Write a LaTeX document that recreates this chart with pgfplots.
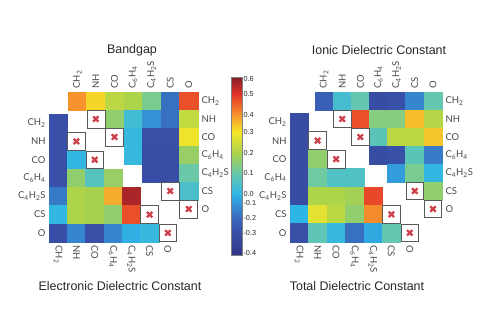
\documentclass[border=0pt]{standalone}
\usepackage{pgfplots}
\pgfplotsset{compat=1.18}
\usepackage{fontspec}
\setmainfont{Liberation Sans}
\newfontfamily\lab{Lato}
\definecolor{xred}{RGB}{205,65,75}
\pgfplotsset{
  colormap={refjet}{rgb255(0pt)=(50,54,138) rgb255(122pt)=(56,78,166) rgb255(206pt)=(57,104,188) rgb255(290pt)=(52,150,215) rgb255(341pt)=(45,182,232) rgb255(459pt)=(105,200,170) rgb255(571pt)=(168,210,76) rgb255(689pt)=(246,230,40) rgb255(787pt)=(246,150,45) rgb255(904pt)=(228,50,40) rgb255(1000pt)=(130,30,40)},
  hmcell/.style={
    scale only axis, clip=false,
    xmin=-0.5, xmax=6.5, ymin=-0.5, ymax=6.5, y dir=reverse,
    point meta min=0, point meta max=1,
    axis line style={draw=none}, major tick length=0pt,
    xtick={0,...,6}, ytick={0,...,6},
    xticklabels={CH\textsubscript{2},NH,CO,C\textsubscript{6}H\textsubscript{4},C\textsubscript{4}H\textsubscript{2}S,CS,O},
    yticklabels={CH\textsubscript{2},NH,CO,C\textsubscript{6}H\textsubscript{4},C\textsubscript{4}H\textsubscript{2}S,CS,O},
    ticklabel style={font=\lab\fontsize{9.5}{10}\selectfont, text=black!72},
  },
  hmupper/.style={hmcell, xticklabel pos=upper, yticklabel pos=right,
    xticklabel style={rotate=90, anchor=west}, yticklabel style={anchor=west}},
  hmlower/.style={hmcell,
    xticklabel style={rotate=-90, anchor=west}, yticklabel style={anchor=east}},
  hmcells/.style={scatter, only marks, mark=square*, mark size=#1,
    scatter/use mapped color={draw=mapped color, fill=mapped color}},
  hmxbox/.style={only marks, mark=square*, mark size=#1,
    mark options={fill=white, draw=black!65, line width=0.7pt}},
  hmxmark/.style={only marks, mark=x, mark size=3.8pt, line width=2.3pt, color=xred},
}
\begin{document}
\begin{tikzpicture}[x=1bp,y=1bp]
\path[use as bounding box] (0,0) rectangle (500,333);

% Bandgap (left, upper triangle)
\begin{axis}[hmupper, at={(68bp,115bp)}, anchor=south west, width=130bp, height=126bp,
  colorbar, colorbar style={at={(parent axis.north east)}, anchor=north west,
    xshift=25bp, yshift=15bp, scale only axis, width=10.5bp, height=178bp,
    axis line style={draw=black!50}, major tick length=0pt,
    ytick={0.013,0.122,0.206,0.290,0.341,0.459,0.571,0.689,0.787,0.904,0.989},
    yticklabels={-0.4,-0.3,-0.2,-0.1,0.0,0.1,0.2,0.3,0.4,0.5,0.6},
    yticklabel style={font=\fontsize{7.3}{8}\selectfont, text=black!85, xshift=-2bp}}]
\addplot[hmcells=9.3bp, point meta=\thisrow{v}] table[x=c, y=r] {
c r v
0 0 0.79
1 0 0.71
2 0 0.60
3 0 0.58
4 0 0.49
5 0 0.22
6 0 0.87
2 1 0.53
3 1 0.38
4 1 0.28
5 1 0.22
6 1 0.61
3 2 0.36
4 2 0.13
5 2 0.13
6 2 0.68
3 3 0.36
4 3 0.12
5 3 0.12
6 3 0.54
4 4 0.12
5 4 0.12
6 4 0.46
6 5 0.40
};
\addplot[hmxbox=9.0bp] coordinates {(1,1) (2,2) (5,5) (6,6)};
\addplot[hmxmark] coordinates {(1,1) (2,2) (5,5) (6,6)};
\end{axis}

% Electronic (left, lower triangle)
\begin{axis}[hmlower, at={(49bp,91bp)}, anchor=south west, width=128bp, height=128bp]
\addplot[hmcells=9.15bp, point meta=\thisrow{v}] table[x=c, y=r] {
c r v
0 0 0.13
0 1 0.13
0 2 0.13
1 2 0.35
0 3 0.13
1 3 0.53
2 3 0.42
3 3 0.54
0 4 0.24
1 4 0.58
2 4 0.57
3 4 0.76
4 4 0.96
0 5 0.35
1 5 0.58
2 5 0.57
3 5 0.53
4 5 0.87
0 6 0.12
1 6 0.26
2 6 0.13
3 6 0.26
4 6 0.33
5 6 0.36
};
\addplot[hmxbox=8.8bp] coordinates {(1,1) (2,2) (5,5) (6,6)};
\addplot[hmxmark] coordinates {(1,1) (2,2) (5,5) (6,6)};
\end{axis}

% Ionic (right, upper triangle)
\begin{axis}[hmupper, at={(315bp,115bp)}, anchor=south west, width=127bp, height=126bp]
\addplot[hmcells=9.1bp, point meta=\thisrow{v}] table[x=c, y=r] {
c r v
0 0 0.18
1 0 0.39
2 0 0.45
3 0 0.11
4 0 0.13
5 0 0.26
6 0 0.45
2 1 0.87
3 1 0.51
4 1 0.51
5 1 0.74
6 1 0.59
3 2 0.43
4 2 0.60
5 2 0.60
6 2 0.73
3 3 0.11
4 3 0.13
5 3 0.43
6 3 0.24
4 4 0.30
5 4 0.49
6 4 0.35
6 5 0.53
};
\addplot[hmxbox=8.8bp] coordinates {(1,1) (2,2) (5,5) (6,6)};
\addplot[hmxmark] coordinates {(1,1) (2,2) (5,5) (6,6)};
\end{axis}

% Total (right, lower triangle)
\begin{axis}[hmlower, at={(290bp,91bp)}, anchor=south west, width=129bp, height=129bp]
\addplot[hmcells=9.2bp, point meta=\thisrow{v}] table[x=c, y=r] {
c r v
0 0 0.11
0 1 0.11
0 2 0.11
1 2 0.53
0 3 0.11
1 3 0.47
2 3 0.41
3 3 0.41
0 4 0.11
1 4 0.58
2 4 0.58
3 4 0.56
4 4 0.88
0 5 0.34
1 5 0.66
2 5 0.60
3 5 0.53
4 5 0.80
0 6 0.13
1 6 0.44
2 6 0.36
3 6 0.22
4 6 0.32
5 6 0.45
};
\addplot[hmxbox=8.9bp] coordinates {(1,1) (2,2) (5,5) (6,6)};
\addplot[hmxmark] coordinates {(1,1) (2,2) (5,5) (6,6)};
\end{axis}

\node[font=\fontsize{12.5}{14}\selectfont, text=black!85] at (132,283) {Bandgap};
\node[font=\fontsize{12.5}{14}\selectfont, text=black!85] at (379,283) {Ionic Dielectric Constant};
\node[font=\fontsize{12.5}{14}\selectfont, text=black!85] at (120,47) {Electronic Dielectric Constant};
\node[font=\fontsize{12.5}{14}\selectfont, text=black!85] at (357,47) {Total Dielectric Constant};
\end{tikzpicture}
\end{document}
